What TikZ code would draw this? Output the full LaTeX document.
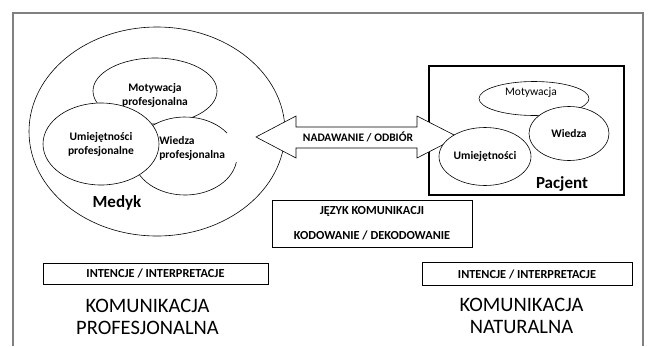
\documentclass[tikz,border=0pt]{standalone}
\usepackage{fontspec}
\setmainfont{Carlito}
\usepackage{tikz}
\usetikzlibrary{shapes.geometric}

\begin{document}
\begin{tikzpicture}[x=1pt, y=1pt, line width=0.6pt,
    elli/.style = {draw, ellipse, fill=white, inner sep=0pt, align=center, font=\fontsize{11.5}{14}\selectfont\bfseries},
    lbl/.style = {inner sep=0pt, align=center, font=\fontsize{11.5}{14}\selectfont\bfseries},
    box/.style = {draw, rectangle, inner sep=0pt, align=center, line width=0.8pt, font=\fontsize{12.3}{14}\selectfont\bfseries},
    big/.style = {inner sep=0pt, font=\fontsize{17}{20}\selectfont\bfseries},
    komm/.style = {inner sep=0pt, align=center, font=\fontsize{20.5}{22}\selectfont}]
    \useasboundingbox (0,0) rectangle (648,-346);
    \draw[gray, line width=1.2pt] (13,-346) -- (13,-13) -- (643,-13) -- (643,-346);

    % medyk
    \node[draw, ellipse, minimum width=256pt, minimum height=209pt](medyk) at (157,-131.5){};
    \node[elli, minimum width=124pt, minimum height=66pt](motywM) at (155,-91){};
    \node[lbl](motywMt) at (155,-95.5){Motywacja\\profesjonalna};
    \node[ellipse, fill=white, minimum width=104pt, minimum height=78pt](wiedzaM) at (185,-156){};
    \draw (wiedzaM.center) ++(36:52 and 39) arc[start angle=36, end angle=351, x radius=52, y radius=39];
    \node[lbl, anchor=west, align=left](wiedzaMt) at (159,-148){Wiedza\\profesjonalna};
    \node[elli, minimum width=116pt, minimum height=82pt](umiejM) at (101,-144){Umiejętności\\profesjonalne};
    \node[big](medykt) at (117,-203){Medyk};

    % pacjent
    \draw[line width=1.2pt] (429,-66) rectangle (624,-195);

    % nadawanie / odbior
    \filldraw[fill=white] (256,-137) -- (296,-116) -- (296,-127) -- (417,-127) -- (417,-116)
        -- (458,-137) -- (417,-158) -- (417,-148) -- (296,-148) -- (296,-158) -- cycle;
    \node[lbl](sygnal) at (358,-137){NADAWANIE / ODBIÓR};

    \node[elli, minimum width=110pt, minimum height=34pt](motywP) at (534,-98.5){};
    \node[lbl, font=\fontsize{11.5}{14}\selectfont](motywPt) at (531,-92.5){Motywacja};
    \node[elli, minimum width=80pt, minimum height=54pt](wiedzaP) at (569,-133.5){Wiedza};
    \node[elli, minimum width=92pt, minimum height=58pt](umiejP) at (485,-156.5){Umiejętności};
    \node[big](pacjent) at (562,-184){Pacjent};

    % jezyk
    \node[box, minimum width=200pt, minimum height=47pt](jezyk) at (372,-223.5){JĘZYK KOMUNIKACJI\\[11pt]KODOWANIE / DEKODOWANIE};

    \node[box, minimum width=225pt, minimum height=21pt](intM) at (155.5,-273.5){INTENCJE / INTERPRETACJE};
    \node[box, minimum width=210pt, minimum height=23pt](intP) at (527,-274){INTENCJE / INTERPRETACJE};

    \node[komm](komM) at (147.5,-317){KOMUNIKACJA\\PROFESJONALNA};
    \node[komm](komP) at (521.5,-316){KOMUNIKACJA\\NATURALNA};
\end{tikzpicture}
\end{document}
